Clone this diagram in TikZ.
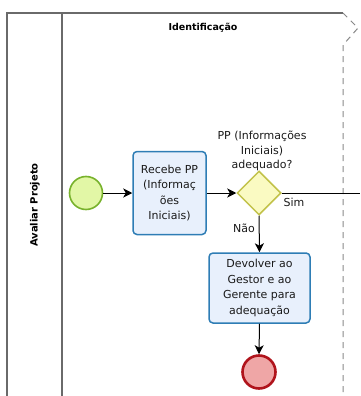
\documentclass[tikz,border=0pt]{standalone}
\usepackage{fontspec}
\setmainfont{DejaVu Sans}
\usetikzlibrary{shapes.geometric,arrows.meta}
\definecolor{framec}{HTML}{6A6A6A}
\definecolor{taskfill}{HTML}{E8F0FC}
\definecolor{taskdraw}{HTML}{2E7DB5}
\definecolor{startfill}{HTML}{E2F7A6}
\definecolor{startdraw}{HTML}{78B22C}
\definecolor{endfill}{HTML}{EFA6A6}
\definecolor{enddraw}{HTML}{B0141C}
\definecolor{gwfill}{HTML}{FAFAC2}
\definecolor{gwdraw}{HTML}{C2C24A}
\definecolor{txt}{HTML}{1A1A1A}
\tikzset{
  taskbox/.style={draw=taskdraw, fill=taskfill, line width=1.5pt, rounded corners=4pt,
    align=center, font=\fontsize{11}{15.5}\selectfont, text=txt, inner sep=0pt},
  startev/.style={circle, draw=startdraw, fill=startfill, line width=1.6pt, minimum size=33pt, inner sep=0pt},
  endev/.style={circle, draw=enddraw, fill=endfill, line width=2.6pt, minimum size=33pt, inner sep=0pt},
  gw/.style={diamond, draw=gwdraw, fill=gwfill, line width=1.5pt, minimum size=44pt, inner sep=0pt},
  flow/.style={draw=black, line width=1pt, -{Stealth[length=9pt,width=9pt,inset=2.5pt]}},
  lbl/.style={font=\fontsize{11}{14.5}\selectfont, text=txt, align=center},
  frame/.style={draw=framec, line width=1.3pt}
}
\begin{document}
\begin{tikzpicture}[x=1pt,y=-1pt]
\useasboundingbox (0,0) rectangle (360,396);
% frame
\draw[frame] (7,396) -- (7,13) -- (343,13);
\draw[frame] (62,13) -- (62,396);
\draw[framec!80, line width=1pt, dash pattern=on 6pt off 5pt] (343,13) -- (358,28) -- (343,45) -- (343,396);
\node[font=\bfseries\fontsize{9.5}{11}\selectfont, text=black] (hdr) at (203,28) {Identificação};
\node[font=\bfseries\fontsize{10}{12}\selectfont, text=black, rotate=90] (lane) at (35,205) {Avaliar Projeto};
% nodes
\node[startev] (start) at (86,193) {};
\node[taskbox, minimum width=73pt, minimum height=83pt] (t1) at (169.5,193) {Recebe PP\\(Informaç\\ões\\Iniciais)};
\node[gw] (g) at (259,193) {};
\node[taskbox, minimum width=101pt, minimum height=70pt] (t2) at (259.5,288) {Devolver ao\\Gestor e ao\\Gerente para\\adequação};
\node[endev] (end) at (259,372) {};
\node[lbl] (glbl) at (262,151) {PP (Informações\\Iniciais)\\adequado?};
\coordinate (out) at (360,193);
% flows
\draw[flow] (start) -- (t1);
\draw[flow] (t1) -- (g);
\draw[draw=black, line width=1pt] (g.east) -- (out);
\draw[flow] (g.south) -- (t2.north);
\draw[flow] (t2.south) -- (end.north);
\node[lbl, anchor=center] (sim) at (294,202) {Sim};
\node[lbl, anchor=center] (nao) at (244,228) {Não};
\end{tikzpicture}
\end{document}
